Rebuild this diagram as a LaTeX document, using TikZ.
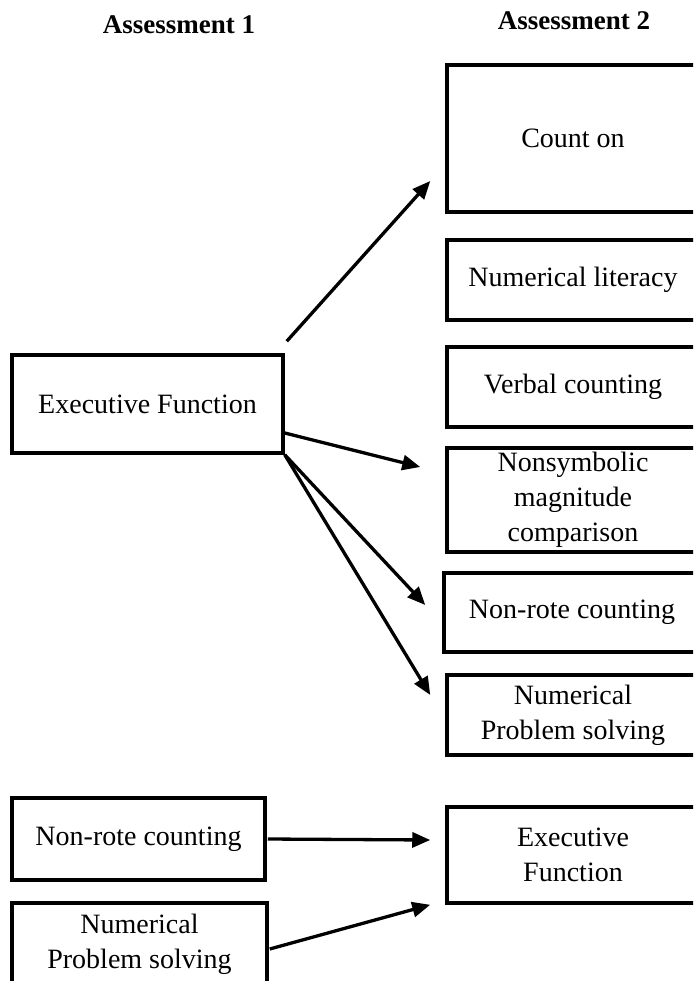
\documentclass[tikz,border=0pt]{standalone}
\usepackage{fontspec}
\setmainfont{Liberation Serif}
\usetikzlibrary{arrows.meta}
\begin{document}
\begin{tikzpicture}[x=1pt,y=1pt,
  box/.style={draw=black, line width=3.5pt, rectangle, inner sep=0pt, align=center,
    font=\fontsize{28}{35}\selectfont},
  head/.style={font=\fontsize{27}{32}\selectfont\bfseries, inner sep=0pt},
  arr/.style={line width=3.3pt, -{Triangle[length=18pt,width=15pt]}}]
\clip (0,0) rectangle (693,-981);
\fill[white] (0,0) rectangle (693,-981);
% headings
\node[head] (h1) at (179,-25) {Assessment 1};
\node[head] (h2) at (574,-21) {Assessment 2};
% right column
\node[box, minimum width=252pt, minimum height=147pt] (co) at (573,-138.5) {Count on};
\node[box, minimum width=252pt, minimum height=80pt] (nl) at (573,-280) {Numerical literacy};
\node[box, minimum width=252pt, minimum height=80pt] (vc) at (573,-387) {Verbal counting};
\node[box, minimum width=252pt, minimum height=104pt] (ns) at (573,-500) {Nonsymbolic\\magnitude\\comparison};
\node[box, minimum width=256pt, minimum height=79pt] (nr) at (572,-612.5) {Non-rote counting};
\node[box, minimum width=252pt, minimum height=80pt] (np) at (573,-715) {Numerical\\Problem solving};
\node[box, minimum width=252pt, minimum height=96pt] (ef2) at (573,-855) {Executive\\Function};
% left column
\node[box, minimum width=271pt, minimum height=98pt] (ef) at (147.5,-404) {Executive Function};
\node[box, minimum width=253pt, minimum height=82pt] (nr1) at (138.5,-839) {Non-rote counting};
\node[box, minimum width=255pt, minimum height=82pt] (np1) at (139.5,-944) {Numerical\\Problem solving};
% arrows
\draw[arr] ([shift={(2pt,12pt)}]ef.north east) -- ([shift={(-15pt,-42.5pt)}]co.west);
\draw[arr] ([yshift=-29pt]ef.east) -- ([shift={(-25pt,33pt)}]ns.west);
\draw[arr] (ef.south east) -- ([shift={(-17pt,7.5pt)}]nr.west);
\draw[arr] (ef.south east) -- ([shift={(-15pt,20pt)}]np.west);
\draw[arr] ([xshift=1pt]nr1.east) -- ([shift={(-15pt,15pt)}]ef2.west);
\draw[arr] ([shift={(1pt,-5pt)}]np1.east) -- ([xshift=-15pt]ef2.south west);
\end{tikzpicture}
\end{document}
